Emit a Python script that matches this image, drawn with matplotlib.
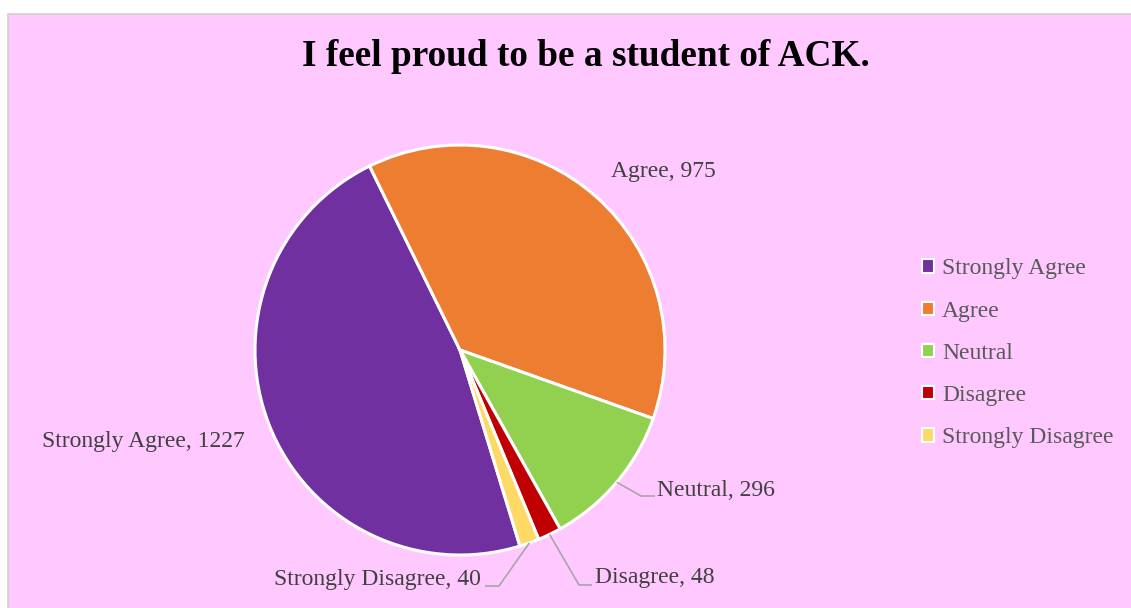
import matplotlib.pyplot as plt
import matplotlib.patches as mpatches
import numpy as np

# DATA
categories = ["Strongly Agree", "Agree", "Neutral", "Disagree", "Strongly Disagree"]
counts = [1227, 975, 296, 48, 40]
colors = ["#7030A0", "#ED7D31", "#92D050", "#C00000", "#FFD966"]
title = "I feel proud to be a student of ACK."

W, H = 1131, 608
plt.rcParams["font.family"] = ["Liberation Serif", "DejaVu Serif"]

fig = plt.figure(figsize=(W / 100, H / 100), dpi=100)
fig.patch.set_facecolor("white")
ax = fig.add_axes([0, 0, 1, 1])
ax.set_xlim(0, W)
ax.set_ylim(0, H)
ax.set_aspect("equal")
ax.axis("off")

# chart area background with thin grey frame
bg = mpatches.Rectangle((7.5, -5), W, H - 13.5 + 5, facecolor="#FFC9FF",
                        edgecolor="#D0D0D0", lw=1.2, zorder=0)
ax.add_patch(bg)

cx, cy, r = 460, H - 350, 205
start = -73
wedges, _ = ax.pie(counts, colors=colors, center=(cx, cy), radius=r,
                   startangle=start, counterclock=False,
                   wedgeprops=dict(edgecolor="white", linewidth=2.2))
ax.set_xlim(0, W)
ax.set_ylim(0, H)

# DATA LABELS
txt_col = "#404040"
fs = 17
lab_pos = {
    "Strongly Agree": (42, H - 442, "left"),
    "Agree": (611, H - 172, "left"),
    "Neutral": (657, H - 490, "left"),
    "Disagree": (595, H - 578, "left"),
    "Strongly Disagree": (481, H - 579, "right"),
}
elbows = {
    "Neutral": (641, H - 496, 655),
    "Disagree": (579, H - 585, 592),
    "Strongly Disagree": (499, H - 586, 485),
}
for w, cat, n in zip(wedges, categories, counts):
    x, y, ha = lab_pos[cat]
    ax.text(x, y, f"{cat}, {n}", ha=ha, va="center", fontsize=fs,
            color=txt_col)
    if cat in elbows:
        mid = np.deg2rad((w.theta1 + w.theta2) / 2)
        px, py = cx + r * np.cos(mid), cy + r * np.sin(mid)
        ex, ey, hx = elbows[cat]
        ax.plot([px, ex, hx], [py, ey, ey], color="#A6A6A6", lw=1.2,
                solid_capstyle="butt")

# TITLE
ax.text(586, H - 57, title, ha="center", va="center", fontsize=26.8,
        fontweight="bold", color="black")

# LEGEND
handles = [mpatches.Patch(facecolor=c, edgecolor="white", lw=1.5)
           for c in colors]
leg = ax.legend(handles, categories, loc="upper left",
                bbox_to_anchor=(913 / W, 1 - 249 / H), frameon=False,
                fontsize=fs, handlelength=0.48, handleheight=0.48,
                handletextpad=0.35, labelspacing=0.9, borderaxespad=0)
for t in leg.get_texts():
    t.set_color("#595959")

fig.savefig("out.png", dpi=100, facecolor=fig.get_facecolor())
